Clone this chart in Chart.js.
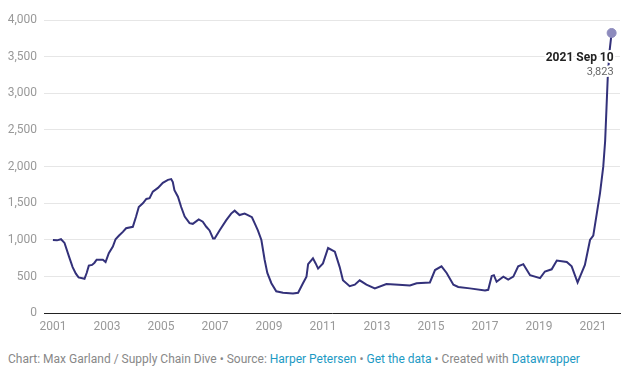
<!DOCTYPE html>
<html>
<head>
<meta charset="utf-8">
<script src="https://cdn.jsdelivr.net/npm/chart.js@4/dist/chart.umd.min.js"></script>
<style>
  html, body { margin: 0; padding: 0; background: #fff; }
  body { width: 632px; height: 377px; overflow: hidden; font-family: Roboto, "Noto Sans", sans-serif; }
  #wrap { position: relative; width: 632px; height: 340px; }
  #footer { position: absolute; left: 8px; top: 352px; font-size: 12px; color: #888; white-space: nowrap; }
  #footer a { color: #1d9ac4; text-decoration: none; }
</style>
</head>
<body>
<div id="wrap"><canvas id="c"></canvas></div>
<div id="footer">Chart: Max Garland / Supply Chain Dive • Source: <a>Harper Petersen</a> • <a>Get the data</a> • Created with <a>Datawrapper</a></div>
<script>
const dates = [2001.00,2001.15,2001.30,2001.43,2001.60,2001.73,2001.85,2001.95,2002.17,2002.25,2002.33,2002.45,2002.54,2002.62,2002.85,2002.95,
2003.07,2003.22,2003.32,2003.45,2003.59,2003.71,2003.96,2004.08,2004.18,2004.33,2004.46,2004.58,2004.70,2004.89,
2005.07,2005.26,2005.38,2005.44,2005.50,2005.63,2005.75,2005.88,2006.06,2006.18,2006.40,2006.55,2006.68,2006.80,2006.93,2006.99,
2007.17,2007.42,2007.60,2007.73,2007.91,2008.10,2008.22,2008.37,2008.47,2008.59,2008.72,2008.84,2008.94,
2009.09,2009.27,2009.52,2009.89,2010.08,2010.26,2010.39,2010.45,2010.63,2010.73,2010.82,
2011.00,2011.19,2011.44,2011.62,2011.74,2011.99,2012.18,2012.36,2012.61,2012.92,2013.35,2013.80,2014.22,2014.47,2014.96,
2015.15,2015.39,2015.58,2015.83,2016.01,2016.44,2017.00,2017.12,2017.25,2017.33,2017.43,2017.68,2017.86,
2018.05,2018.23,2018.42,2018.67,2019.04,2019.22,2019.47,2019.66,2020.03,2020.21,2020.43,2020.52,2020.70,2020.89,
2021.01,2021.14,2021.26,2021.38,2021.45,2021.50,2021.55,2021.62,2021.69];
const harpex = [1000,995,1010,960,770,630,540,490,470,550,650,660,690,730,730,700,
820,910,1010,1060,1110,1160,1180,1320,1450,1500,1560,1570,1660,1710,
1780,1820,1830,1790,1680,1590,1450,1320,1230,1220,1280,1250,1180,1130,1020,1020,
1130,1270,1360,1400,1340,1360,1340,1310,1230,1130,1000,730,550,
410,300,280,270,280,410,500,670,750,680,610,
680,890,840,630,450,370,390,450,390,340,400,390,380,410,420,
590,640,550,390,360,340,310,320,510,520,430,500,460,
500,640,670,520,480,570,600,720,700,640,420,500,660,1000,
1060,1360,1640,2000,2350,2800,3250,3600,3823];
const xTickYears = [2001,2003,2005,2007,2009,2011,2013,2015,2017,2019,2021];
const yTickValues = [0,500,1000,1500,2000,2500,3000,3500,4000];
const lastLabel = "2021 Sep 10";
const lastValue = "3,823";

const points = dates.map((d, i) => ({ x: d, y: harpex[i] }));
const n = points.length;

const annotationPlugin = {
  id: 'lastAnno',
  afterDatasetsDraw(chart) {
    const meta = chart.getDatasetMeta(0);
    const el = meta.data[n - 1];
    const ctx = chart.ctx;
    ctx.save();
    ctx.textAlign = 'right';
    ctx.textBaseline = 'middle';
    ctx.lineJoin = 'round';
    const xr = el.x + 2;
    ctx.font = 'bold 12px Roboto';
    ctx.strokeStyle = '#fff';
    ctx.lineWidth = 4;
    ctx.strokeText(lastLabel, xr, el.y + 25);
    ctx.fillStyle = '#222';
    ctx.fillText(lastLabel, xr, el.y + 25);
    ctx.font = '11px Roboto';
    ctx.strokeText(lastValue, xr, el.y + 39);
    ctx.fillStyle = '#666';
    ctx.fillText(lastValue, xr, el.y + 39);
    ctx.restore();
  }
};

new Chart(document.getElementById('c'), {
  type: 'line',
  data: {
    datasets: [{
      data: points,
      borderColor: '#33317a',
      borderWidth: 2,
      tension: 0,
      pointRadius: points.map((p, i) => i === n - 1 ? 4.5 : 0),
      pointBackgroundColor: '#8d8bbd',
      pointBorderColor: '#8d8bbd',
      pointBorderWidth: 1,
      clip: false
    }]
  },
  options: {
    responsive: true,
    maintainAspectRatio: false,
    animation: false,
    events: [],
    layout: { padding: { top: 20, right: 12, left: 0, bottom: 0 } },
    plugins: { legend: { display: false }, tooltip: { enabled: false } },
    scales: {
      x: {
        type: 'linear',
        min: 2000.67,
        max: 2022.0,
        afterBuildTicks(scale) { scale.ticks = xTickYears.map(v => ({ value: v })); },
        afterFit(scale) { scale.height = 26.7; },
        grid: { display: false, drawTicks: false },
        border: { display: true, color: '#222', width: 1 },
        ticks: {
          padding: 6,
          color: '#999',
          font: { family: 'Roboto', size: 12 },
          maxRotation: 0,
          autoSkip: false,
          callback: v => String(v)
        }
      },
      y: {
        min: 0,
        max: 4000,
        afterBuildTicks(scale) { scale.ticks = yTickValues.map(v => ({ value: v })); },
        afterFit(scale) { scale.width = 44; },
        grid: { color: '#e6e6e6', drawTicks: false, lineWidth: 1 },
        border: { display: false },
        ticks: {
          padding: 7,
          color: '#999',
          font: { family: 'Roboto', size: 12 },
          callback: v => v.toLocaleString('en-US')
        }
      }
    }
  },
  plugins: [annotationPlugin]
});
</script>
</body>
</html>
